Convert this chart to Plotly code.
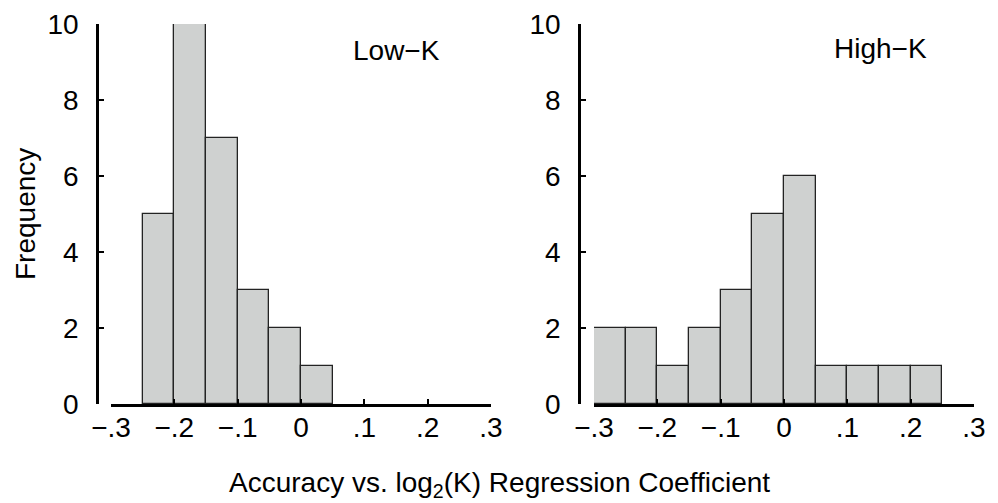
import plotly.graph_objects as go

# Data: histogram bin centers (bin width 0.05) and counts
low_k_centers = [-0.225, -0.175, -0.125, -0.075, -0.025, 0.025]
low_k_counts = [5, 10, 7, 3, 2, 1]

high_k_centers = [-0.275, -0.225, -0.175, -0.125, -0.075, -0.025, 0.025,
                  0.075, 0.125, 0.175, 0.225]
high_k_counts = [2, 2, 1, 2, 3, 5, 6, 1, 1, 1, 1]

bin_width = 0.05
x_tickvals = [-0.3, -0.2, -0.1, 0, 0.1, 0.2, 0.3]
x_ticktext = ["\u2212.3", "\u2212.2", "\u2212.1", "0", ".1", ".2", ".3"]
y_tickvals = [0, 2, 4, 6, 8, 10]

W, H = 998, 503
FONT = "Liberation Sans, Arial, Helvetica, sans-serif"
FS = 28
fill = "rgb(207,209,208)"
edge = "rgb(35,35,35)"

fig = go.Figure()
fig.add_trace(go.Bar(x=low_k_centers, y=low_k_counts, width=bin_width,
                     marker=dict(color=fill, line=dict(color=edge, width=1.3)),
                     xaxis="x", yaxis="y", showlegend=False))
fig.add_trace(go.Bar(x=high_k_centers, y=high_k_counts, width=bin_width,
                     marker=dict(color=fill, line=dict(color=edge, width=1.3)),
                     xaxis="x2", yaxis="y2", showlegend=False))

ydom = [(H - 404) / H, (H - 24) / H]
tickfont = dict(family=FONT, size=FS, color="black")

xcommon = dict(range=[-0.3, 0.3], tickvals=x_tickvals, ticktext=x_ticktext,
               showline=True, linecolor="black", linewidth=2.5,
               ticks="inside", ticklen=5, tickwidth=2, tickcolor="black",
               showgrid=False, zeroline=False, tickfont=tickfont,
               automargin=False, ticklabelstandoff=-3)
ycommon = dict(range=[0, 10], domain=ydom, tickvals=y_tickvals,
               showline=True, linecolor="black", linewidth=2.5,
               ticks="inside", ticklen=5, tickwidth=2, tickcolor="black",
               showgrid=False, zeroline=False, tickfont=tickfont,
               anchor="free", ticklabelstandoff=12, automargin=False)

fig.update_layout(
    width=W, height=H,
    margin=dict(l=0, r=0, t=0, b=0, autoexpand=False),
    paper_bgcolor="white", plot_bgcolor="white",
    bargap=0,
    font=dict(family=FONT, color="black"),
    xaxis=dict(domain=[111 / W, 491 / W], anchor="y", **xcommon),
    yaxis=dict(position=97 / W, **ycommon),
    xaxis2=dict(domain=[594 / W, 974 / W], anchor="y2", **xcommon),
    yaxis2=dict(position=579 / W, **ycommon),
    annotations=[
        dict(text="Low\u2212K", x=396 / W, y=1 - 50 / H, xref="paper", yref="paper",
             showarrow=False, font=dict(size=FS, family=FONT), xanchor="center", yanchor="middle"),
        dict(text="High\u2212K", x=880 / W, y=1 - 48 / H, xref="paper", yref="paper",
             showarrow=False, font=dict(size=FS, family=FONT), xanchor="center", yanchor="middle"),
        dict(text="Frequency", x=25 / W, y=1 - 214 / H, xref="paper", yref="paper",
             showarrow=False, textangle=-90, font=dict(size=FS, family=FONT),
             xanchor="center", yanchor="middle"),
        dict(text="Accuracy vs. log<sub>2</sub>(K) Regression Coefficient",
             x=499 / W, y=1 - 484 / H, xref="paper", yref="paper",
             showarrow=False, font=dict(size=FS, family=FONT),
             xanchor="center", yanchor="middle"),
    ],
)

fig.write_html("out.html")
